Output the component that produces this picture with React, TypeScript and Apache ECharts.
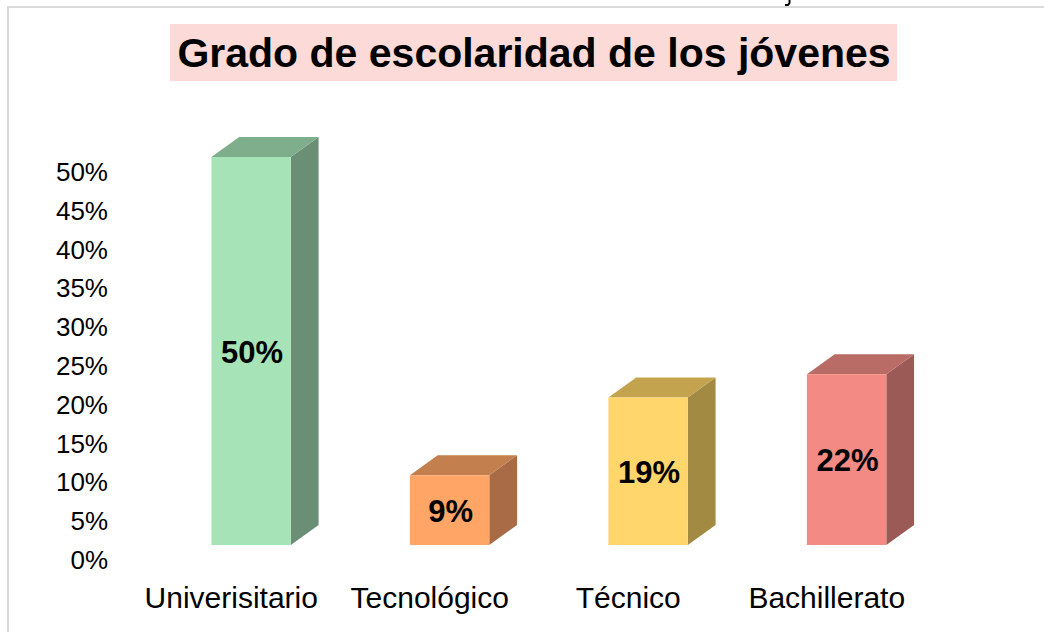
import React, { useEffect, useRef } from "react";
import * as echarts from "echarts";

const categories = ["Univerisitario", "Tecnológico", "Técnico", "Bachillerato"];
const values = [50, 9, 19, 22];
const yTicks = [0, 5, 10, 15, 20, 25, 30, 35, 40, 45, 50];
const frontColors = ["#a6e4b7", "#ffa566", "#ffd66b", "#f38a84"];
const topColors = ["#7fae8c", "#c47f4e", "#c4a34f", "#b96c66"];
const sideColors = ["#6a8f75", "#a86b45", "#a38a42", "#9c5a56"];
const titleText = "Grado de escolaridad de los jóvenes";

export default function App() {
  const ref = useRef<HTMLDivElement>(null);
  useEffect(() => {
    if (!ref.current) return;
    const chart = echarts.init(ref.current, null, { renderer: "svg" });
    const font = "'Liberation Sans', Arial, sans-serif";
    chart.setOption({
      animation: false,
      backgroundColor: "#ffffff",
      grid: { left: 132, right: 118, top: 172, bottom: 72 },
      xAxis: {
        type: "category",
        data: categories,
        axisLine: { show: false },
        axisTick: { show: false },
        axisLabel: { fontSize: 30, color: "#000", fontFamily: font, margin: 22, interval: 0 },
      },
      yAxis: {
        type: "value",
        min: 0,
        max: 50,
        interval: 5,
        splitLine: { show: false },
        axisLine: { show: false },
        axisTick: { show: false },
        axisLabel: {
          fontSize: 26,
          color: "#000",
          fontFamily: font,
          margin: 24,
          formatter: (v: number) => (yTicks.includes(v) ? v + "%" : ""),
        },
      },
      series: [
        {
          type: "custom",
          data: values.map((v, i) => [i, v]),
          renderItem: (params: any, api: any) => {
            const i = api.value(0);
            const v = api.value(1);
            const base = api.coord([i, 0]);
            const topP = api.coord([i, v]);
            const band = api.size([1, 0])[0];
            const cx = base[0];
            const lift = 15;
            const l = cx - band * 0.1;
            const r = l + band * 0.4;
            const dx = band * 0.14;
            const dy = 20;
            const b = base[1] - lift;
            const t = topP[1] - lift;
            return {
              type: "group",
              children: [
                {
                  type: "polygon",
                  shape: { points: [[r, b], [r + dx, b - dy], [r + dx, t - dy], [r, t]] },
                  style: { fill: sideColors[i] },
                },
                {
                  type: "polygon",
                  shape: { points: [[l, t], [l + dx, t - dy], [r + dx, t - dy], [r, t]] },
                  style: { fill: topColors[i] },
                },
                {
                  type: "rect",
                  shape: { x: l, y: t, width: r - l, height: b - t },
                  style: { fill: frontColors[i] },
                },
                {
                  type: "text",
                  x: (l + r) / 2 + 1,
                  y: (t + b) / 2 + 1,
                  style: {
                    text: v + "%",
                    fill: "#000",
                    font: "bold 31px " + font,
                    align: "center",
                    verticalAlign: "middle",
                  },
                },
              ],
            };
          },
        },
      ],
      graphic: [
        { type: "line", shape: { x1: 7, y1: 7, x2: 1044, y2: 7 }, style: { stroke: "#d9d9d9", lineWidth: 2 } },
        { type: "line", shape: { x1: 8, y1: 7, x2: 8, y2: 632 }, style: { stroke: "#d9d9d9", lineWidth: 2 } },
        {
          type: "polyline",
          shape: { points: [[789.5, 0], [789.5, 3], [788, 5], [785, 5]] },
          style: { stroke: "#000", lineWidth: 2, fill: "none" },
        },
        {
          type: "rect",
          shape: { x: 170, y: 24, width: 727, height: 57 },
          style: { fill: "#fbdad8" },
        },
        {
          type: "text",
          x: 534,
          y: 53,
          style: {
            text: titleText,
            font: "bold 41px " + font,
            fill: "#000",
            align: "center",
            verticalAlign: "middle",
          },
        },
      ],
    });
    return () => chart.dispose();
  }, []);
  return (
    <div
      ref={ref}
      style={{ position: "fixed", left: 0, top: 0, width: 1044, height: 632 }}
    />
  );
}
